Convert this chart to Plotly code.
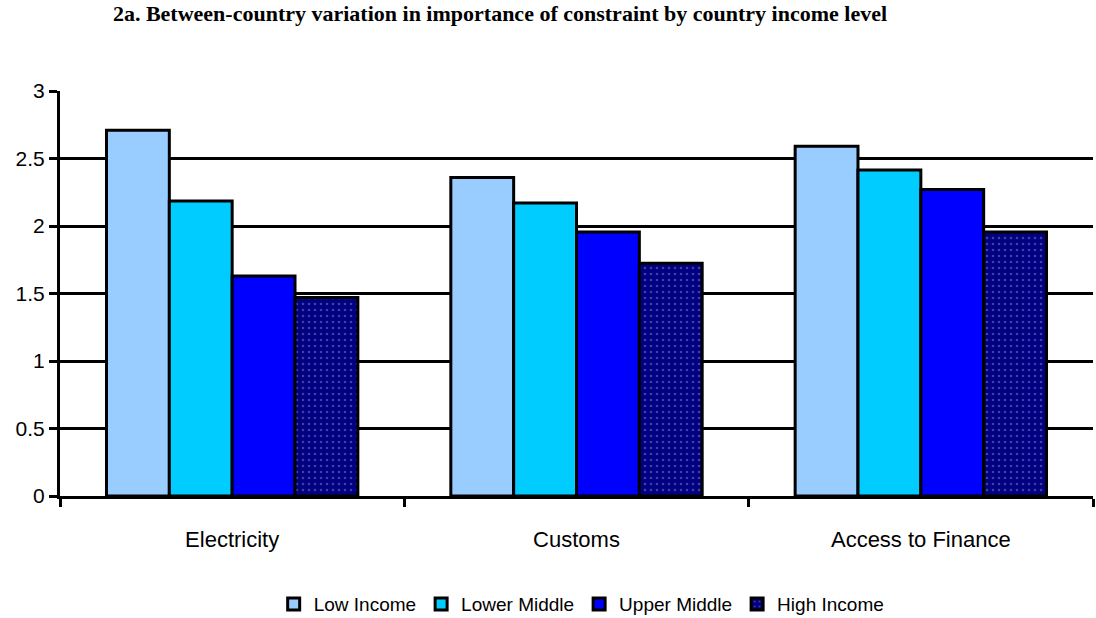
import plotly.graph_objects as go

categories = ["Electricity", "Customs", "Access to Finance"]
series_names = ["Low Income", "Lower Middle", "Upper Middle", "High Income"]
low_income = [2.71, 2.36, 2.59]
lower_middle = [2.185, 2.17, 2.415]
upper_middle = [1.63, 1.955, 2.27]
high_income = [1.47, 1.725, 1.955]
y_ticks = [0, 0.5, 1, 1.5, 2, 2.5, 3]
y_tick_labels = ["0", "0.5", "1", "1.5", "2", "2.5", "3"]

colors = ["#99CCFF", "#00CCFF", "#0000FF", "#000080"]
values = [low_income, lower_middle, upper_middle, high_income]

fig = go.Figure()
for i, (name, vals) in enumerate(zip(series_names, values)):
    marker = dict(color=colors[i], line=dict(color="black", width=3))
    if name == "High Income":
        marker["pattern"] = dict(shape=".", fgcolor="#8080d0", bgcolor="#000080",
                                 size=6, solidity=0.15, fillmode="overlay")
    fig.add_trace(go.Bar(x=categories, y=vals, name=name, marker=marker))

W, H = 1096, 618
fig.update_layout(
    width=W, height=H,
    margin=dict(l=60, r=3, t=91, b=122, autoexpand=False),
    plot_bgcolor="white", paper_bgcolor="white",
    barmode="group", bargap=0.27, bargroupgap=0,
    font=dict(family="Liberation Sans, Arial", size=21, color="black"),
    title=dict(text="<b>2a. Between-country variation in importance of constraint by country income level</b>",
               font=dict(family="Liberation Serif, Times New Roman", size=22, color="black"),
               x=500 / W, xanchor="center", y=1 - 13 / H, yanchor="middle"),
    legend=dict(orientation="h", x=0.505, xanchor="center", y=-0.267, yanchor="middle",
                font=dict(size=19), itemwidth=30, traceorder="normal"),
    showlegend=True,
)
fig.update_yaxes(range=[0, 3], tickvals=y_ticks, ticktext=y_tick_labels,
                 showgrid=True, gridcolor="black", gridwidth=3,
                 showline=True, linecolor="black", linewidth=3,
                 ticks="outside", ticklen=8, tickwidth=3, tickcolor="black",
                 zeroline=False, fixedrange=True, automargin=False)
fig.update_xaxes(showline=True, linecolor="black", linewidth=3,
                 ticks="outside", ticklen=8, tickwidth=3, tickcolor="black",
                 tickson="boundaries", ticklabelstandoff=22, showgrid=False,
                 tickfont=dict(size=22), automargin=False)

fig.write_html(
    "out.html",
    config={"displayModeBar": False},
    post_script="document.body.style.margin='0';document.body.style.overflow='hidden';",
)
